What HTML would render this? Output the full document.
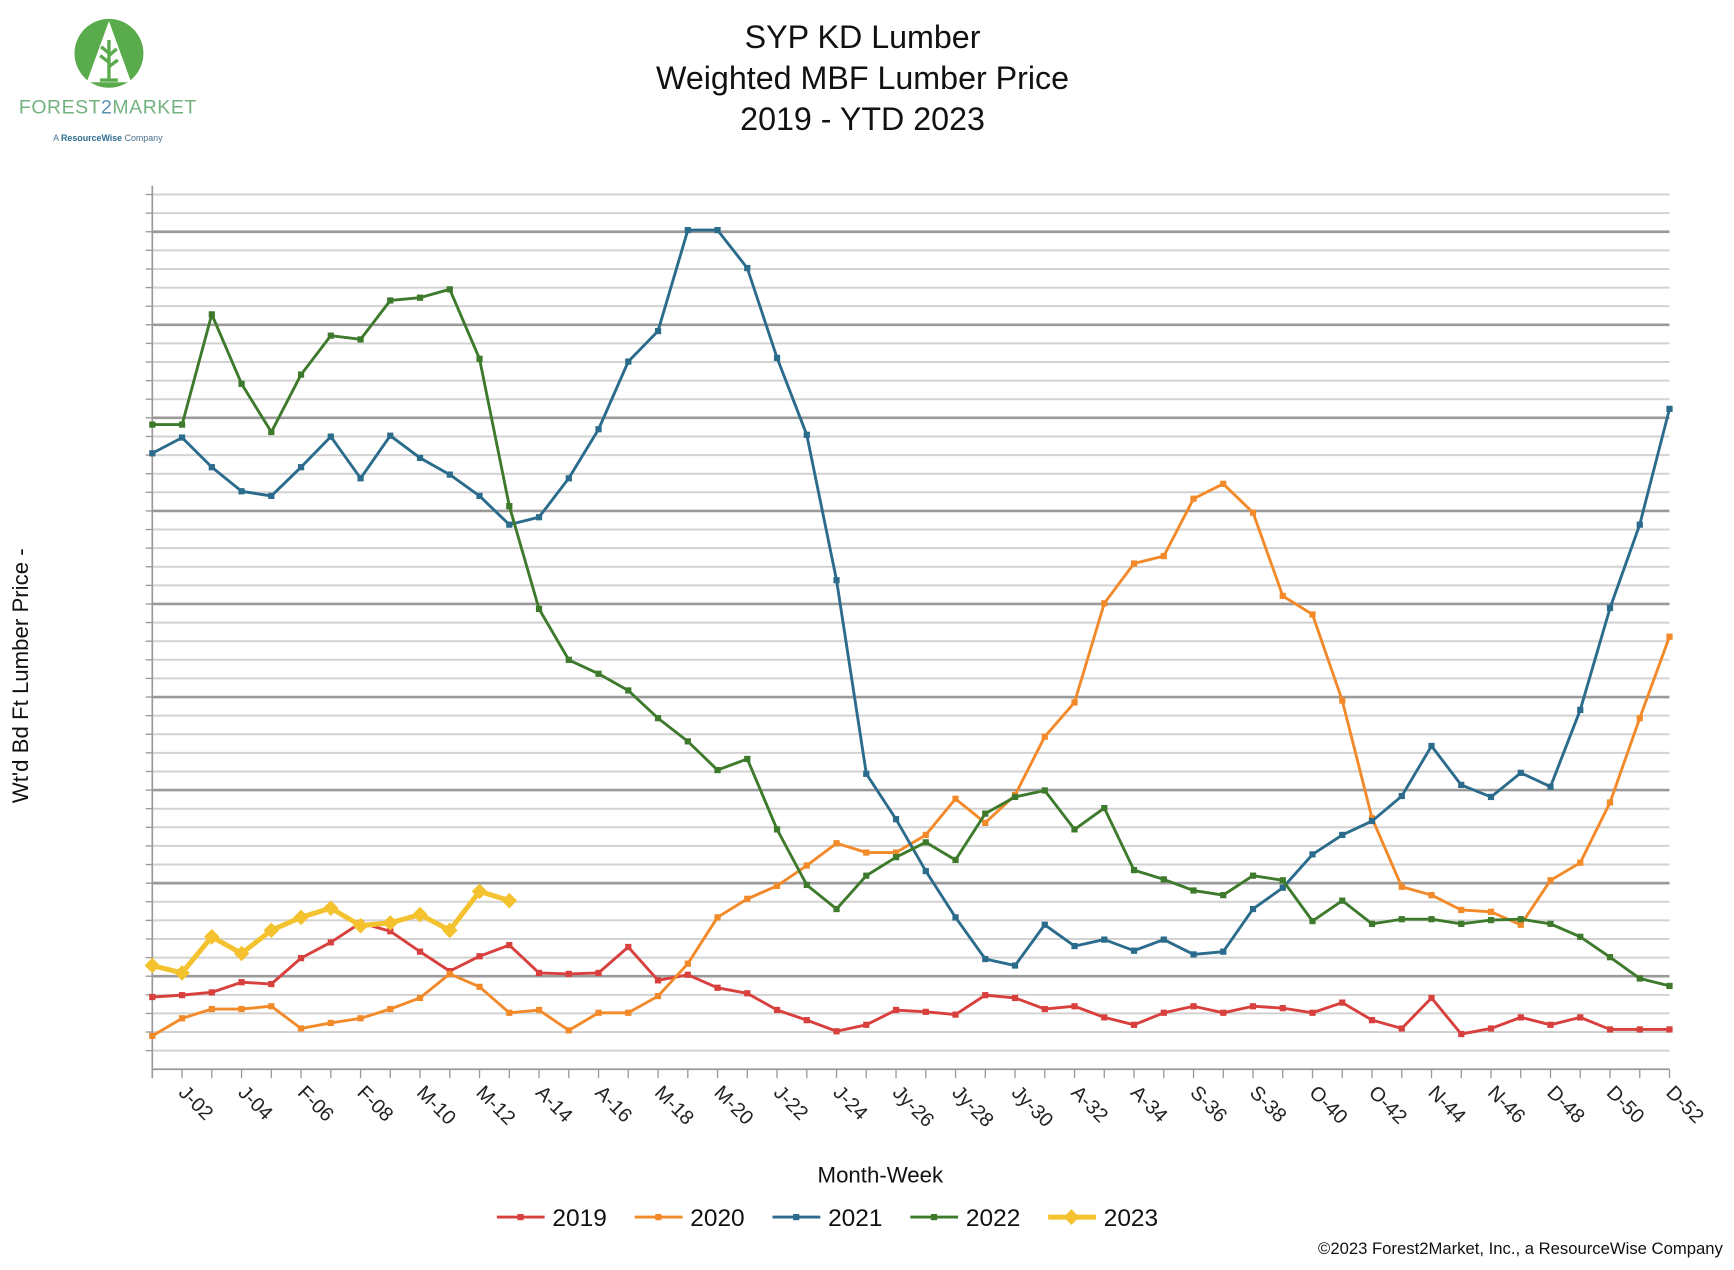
<!DOCTYPE html>
<html><head><meta charset="utf-8"><style>
html,body{margin:0;padding:0;background:#fff}
svg{display:block;font-family:"Liberation Sans",Arial,sans-serif}
</style></head><body>
<svg id="chart" width="1734" height="1270" viewBox="0 0 1560 1142.6" xmlns="http://www.w3.org/2000/svg">
<rect width="1560" height="1143" fill="#fff"/>
<g>
<circle cx="98" cy="48" r="31" fill="#5aab4c"/>
<polygon points="98,19 78,74 118,74" fill="#fff"/>
<path d="M98,36 L98,72 M98,48 L91,42 M98,56 L90,50 M98,50 L105,44 M98,60 L106,54 M90,72 L106,72" stroke="#5aab4c" stroke-width="3" fill="none"/>
<text x="97" y="102" font-size="17.5" fill="#72b27e" text-anchor="middle" letter-spacing="0.5">FOREST<tspan fill="#5a8fb0">2</tspan>MARKET</text>
<text x="97" y="127" font-size="8" fill="#4a6e8a" text-anchor="middle">A <tspan font-weight="bold" fill="#2e6e8e">ResourceWise</tspan> Company</text>
</g>
<g font-size="29" text-anchor="middle" fill="#111">
<text x="776" y="43">SYP KD Lumber</text>
<text x="776" y="80">Weighted MBF Lumber Price</text>
<text x="776" y="117">2019 - YTD 2023</text>
</g>
<text transform="translate(25,608) rotate(-90)" font-size="20" text-anchor="middle" fill="#111">Wt'd Bd Ft Lumber Price -</text>
<text x="792" y="1064" font-size="20" text-anchor="middle" fill="#111">Month-Week</text>
<text x="1550" y="1128" font-size="15" text-anchor="end" fill="#111">©2023 Forest2Market, Inc., a ResourceWise Company</text>
<g id="grid"></g><g id="axes"></g><g id="series"></g><g id="legend"></g>
</svg>
<script>
const weekLabels=["J-02","J-04","F-06","F-08","M-10","M-12","A-14","A-16","M-18","M-20","J-22","J-24","Jy-26","Jy-28","Jy-30","A-32","A-34","S-36","S-38","O-40","O-42","N-44","N-46","D-48","D-50","D-52"];
const years=["2019","2020","2021","2022","2023"];
const s2019=[78,80,83,94,92,120,137,158,149,127,106,122,134,104,103,104,132,96,102,88,82,64,53,41,48,64,62,59,80,77,65,68,56,48,61,68,61,68,66,61,72,53,44,77,38,44,56,48,56,43,43,43];
const s2020=[36,55,65,65,68,44,50,55,65,77,103,89,61,64,42,61,61,79,114,164,184,198,220,244,234,234,253,292,266,296,359,396,503,546,554,616,632,601,511,491,398,271,197,188,172,170,156,204,223,288,379,467];
const s2021=[665,682,650,624,619,650,683,638,684,660,642,619,588,596,638,691,764,797,906,906,865,768,685,528,319,270,214,164,119,112,156,133,140,128,140,124,127,173,196,232,253,268,295,349,307,294,320,305,388,498,588,713];
const s2022=[696,696,815,740,688,750,792,788,830,833,842,767,608,497,442,427,409,379,354,323,335,259,199,173,209,229,245,226,276,294,301,259,282,215,205,193,188,209,204,160,182,157,162,162,157,161,162,157,143,121,98,90];
const s2023=[112,104,143,125,150,164,174,155,158,167,150,192,182];
const seriesData=[s2019,s2020,s2021,s2022,s2023];
const colors=["#d8403e","#f28a2a","#2b6b8c","#3e7a2c","#f4c22e"];
const NS="http://www.w3.org/2000/svg";
const X0=137,X1=1502,YB=962,YT=175,VMAX=(YB-YT)*1.2;
const xScale=w=>X0+(X1-X0)*(w-1)/51;
const yScale=v=>YB-(YB-YT)*v/VMAX;
function mk(tag,attrs,parent){const e=document.createElementNS(NS,tag);for(const k in attrs)e.setAttribute(k,attrs[k]);parent.appendChild(e);return e;}
const grid=document.getElementById('grid'),axes=document.getElementById('axes'),ser=document.getElementById('series'),leg=document.getElementById('legend');
for(let i=1;i<=47;i++){
  const y=YB-(YB-YT)*i/47;const major=(i%5===0);
  const l=mk('line',{x1:X0,x2:X1,y1:y,y2:y,stroke:major?'#9a9a9a':'#d2d2d2','stroke-width':major?2.4:1.8},grid);
  
  
  const t=mk('line',{x1:X0-6,x2:X0,y1:y,y2:y,stroke:'#999','stroke-width':1.2},axes);
  
  
}
const ya=mk('line',{x1:X0,x2:X0,y1:YT-8,y2:YB+8,stroke:'#999','stroke-width':1.5},axes);


const xa=mk('line',{x1:X0,x2:X1,y1:YB,y2:YB,stroke:'#999','stroke-width':1.5},axes);


for(let w=1;w<=52;w++){
  const t=mk('line',{x1:xScale(w),x2:xScale(w),y1:YB,y2:YB+8,stroke:'#999','stroke-width':1.2},axes);
  
  
}
weekLabels.forEach((lab,i)=>{
  const x=xScale((i+1)*2)-4,y=YB+22;
  const t=mk('text',{x:0,y:0,transform:`translate(${x},${y}) rotate(45)`,'font-size':18,fill:'#222'},axes);
  t.textContent=lab;
  
  
});
seriesData.forEach((arr,si)=>{
  const g=mk('g',{},ser);
  
  
  const pts=arr.map((v,i)=>xScale(i+1).toFixed(1)+','+yScale(v).toFixed(1)).join(' ');
  const is23=si===4;
  const pl=mk('polyline',{points:pts,fill:'none',stroke:colors[si],'stroke-width':is23?4.5:2.6,'stroke-linejoin':'round'},g);
  
  
  arr.forEach((v,i)=>{
    const x=xScale(i+1),y=yScale(v);
    let m;
    if(is23){m=mk('polygon',{points:`${x},${y-7} ${x+7},${y} ${x},${y+7} ${x-7},${y}`,fill:colors[si]},g);}
    else{m=mk('rect',{x:x-2.8,y:y-2.8,width:5.6,height:5.6,fill:colors[si]},g);}
    
    
  });
});
years.forEach((yr,i)=>{
  const x0=447+i*124,y=1095;
  const g=mk('g',{},leg);
  
  
  mk('line',{x1:x0,x2:x0+43,y1:y,y2:y,stroke:colors[i],'stroke-width':i===4?4.5:2.6},g);
  if(i===4)mk('polygon',{points:`${x0+21},${y-7} ${x0+28},${y} ${x0+21},${y+7} ${x0+14},${y}`,fill:colors[i]},g);
  else mk('rect',{x:x0+18.5,y:y-2.8,width:5.6,height:5.6,fill:colors[i]},g);
  const t=mk('text',{x:x0+50,y:y+8,'font-size':22,fill:'#111'},g);
  t.textContent=yr;
});
</script>
</body></html>
